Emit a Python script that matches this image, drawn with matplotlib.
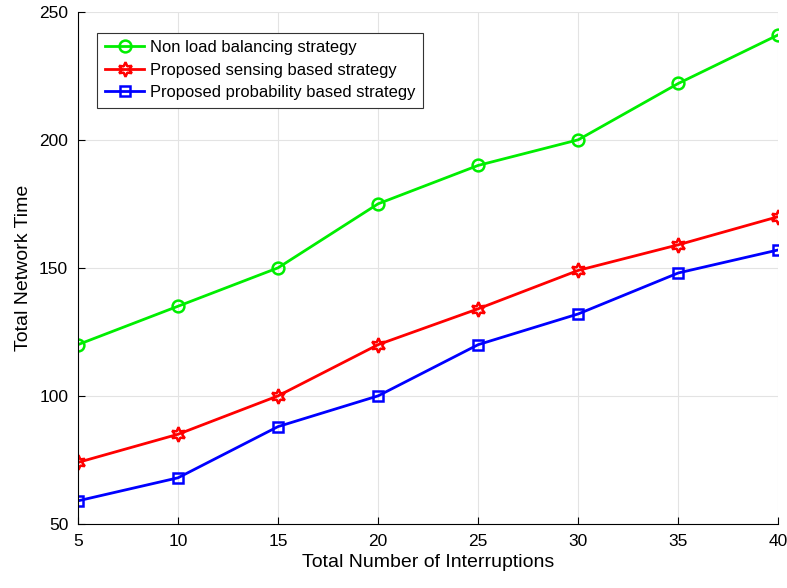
import matplotlib.pyplot as plt

plt.rcParams['font.family'] = ['Liberation Sans', 'DejaVu Sans']

interruptions = [5, 10, 15, 20, 25, 30, 35, 40]
non_load = [120, 135, 150, 175, 190, 200, 222, 241]
sensing = [74, 85, 100, 120, 134, 149, 159, 170]
probability = [59, 68, 88, 100, 120, 132, 148, 157]

fig = plt.figure(figsize=(7.87, 5.88), dpi=100)
ax = fig.add_axes([0.099, 0.109, 0.890, 0.871])

ax.plot(interruptions, non_load, color='#00ee00', lw=2, marker='o', ms=8.5,
        mfc='none', mew=1.8, label='Non load balancing strategy')
ax.plot(interruptions, sensing, color='red', lw=2, marker=(6, 1, 0), ms=10.5,
        mfc='none', mew=1.8, label='Proposed sensing based strategy')
ax.plot(interruptions, probability, color='blue', lw=2, marker='s', ms=7.5,
        mfc='none', mew=1.8, label='Proposed probability based strategy')

ax.set_xlim(5, 40)
ax.set_ylim(50, 250)
ax.set_xticks(interruptions)
ax.set_yticks([50, 100, 150, 200, 250])
ax.grid(True, color='#e3e3e3', lw=0.8)
ax.set_axisbelow(True)
for s in ['top', 'right']:
    ax.spines[s].set_visible(False)
ax.tick_params(labelsize=12.5, direction='in', length=5, pad=7)
ax.set_xlabel('Total Number of Interruptions', fontsize=14, labelpad=4)
ax.set_ylabel('Total Network Time', fontsize=14, labelpad=5)

leg = ax.legend(loc='upper left', bbox_to_anchor=(0.016, 0.975), fontsize=11.9,
                fancybox=False, framealpha=1, edgecolor='#333333',
                handlelength=2.4, handletextpad=0.35, borderpad=0.45,
                labelspacing=0.45)
leg.get_frame().set_linewidth(0.8)

fig.savefig('out.png', dpi=100)
